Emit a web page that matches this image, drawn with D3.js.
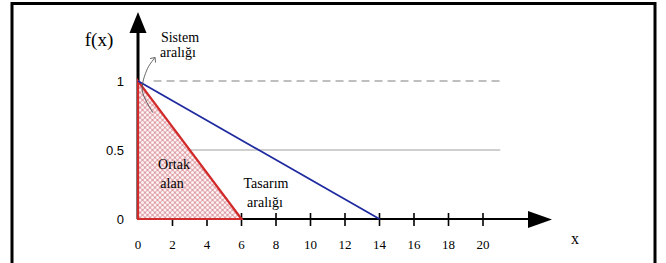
<!DOCTYPE html>
<html>
<head>
<meta charset="utf-8">
<script src="https://cdn.jsdelivr.net/npm/d3@7"></script>
<style>
  body { margin: 0; background: #fff; }
  svg { display: block; }
  .serif { font-family: 'Liberation Serif', 'Times New Roman', serif; }
  .sans { font-family: 'Liberation Sans', Arial, sans-serif; }
</style>
</head>
<body>
<svg id="chart" width="666" height="263"></svg>
<script>
// values
const xTicks = [0, 2, 4, 6, 8, 10, 12, 14, 16, 18, 20];
const yTicks = [0, 0.5, 1];
const yTickLabels = ['0', '0.5', '1'];
const systemRange = [[0, 1], [14, 0]];      // blue line
const designRange = [[0, 0], [0, 1], [6, 0]]; // red triangle
const halfLine = [[3, 0.5], [21, 0.5]];
const oneLine = [[0.9, 1], [21, 1]];
const arrowCurve = [[0.87, 0.77], [0.25, 0.93], [0.55, 1.09], [0.99, 1.17]];

const svg = d3.select('#chart');

const x = d3.scaleLinear().domain([0, 20]).range([138, 483]);
const y = d3.scaleLinear().domain([0, 1]).range([219, 81]);

const line = d3.line().x(d => x(d[0])).y(d => y(d[1]));

// frame
svg.append('rect')
  .attr('x', 12).attr('y', 3.5)
  .attr('width', 643).attr('height', 280)
  .attr('fill', 'none').attr('stroke', '#000').attr('stroke-width', 3);

// pattern for common area
const defs = svg.append('defs');
const pat = defs.append('pattern')
  .attr('id', 'dots').attr('patternUnits', 'userSpaceOnUse')
  .attr('width', 5).attr('height', 5);
pat.append('rect').attr('width', 5).attr('height', 5).attr('fill', '#dfa0a7');
[[2.5, 2.5], [0, 0], [5, 0], [0, 5], [5, 5]].forEach(p => {
  pat.append('circle').attr('cx', p[0]).attr('cy', p[1]).attr('r', 1.5).attr('fill', '#fdf3f4');
});

// reference lines
svg.append('path').attr('d', line(oneLine))
  .attr('stroke', '#aaa').attr('stroke-width', 1.3)
  .attr('stroke-dasharray', '8,5').attr('fill', 'none');
svg.append('path').attr('d', line(halfLine))
  .attr('stroke', '#888').attr('stroke-width', 0.8).attr('fill', 'none');

// x axis
svg.append('line')
  .attr('x1', x(0)).attr('x2', 530).attr('y1', y(0)).attr('y2', y(0))
  .attr('stroke', '#000').attr('stroke-width', 2);
svg.append('path')
  .attr('d', 'M528,211L552,219.5L528,228Z').attr('fill', '#000');

svg.selectAll('line.tick')
  .data(xTicks.filter(d => d > 0))
  .join('line')
  .attr('class', 'tick')
  .attr('x1', d => x(d)).attr('x2', d => x(d))
  .attr('y1', y(0) - 6).attr('y2', y(0) + 7)
  .attr('stroke', '#000').attr('stroke-width', 1.6);

svg.selectAll('text.xt')
  .data(xTicks)
  .join('text')
  .attr('class', 'xt serif')
  .attr('x', d => x(d)).attr('y', 249)
  .attr('text-anchor', 'middle')
  .attr('font-size', 13)
  .text(d => d);

// y axis
svg.append('line')
  .attr('x1', x(0)).attr('x2', x(0)).attr('y1', y(0)).attr('y2', 30)
  .attr('stroke', '#000').attr('stroke-width', 3);
svg.append('path')
  .attr('d', 'M129.5,33L138,12L146.5,33Z').attr('fill', '#000');

svg.selectAll('text.yt')
  .data(yTicks)
  .join('text')
  .attr('class', 'yt sans')
  .attr('x', 124).attr('y', d => y(d) + 5)
  .attr('text-anchor', 'end')
  .attr('font-size', 13)
  .text((d, i) => yTickLabels[i]);

// common area triangle
svg.append('path')
  .attr('d', line(designRange) + 'Z')
  .attr('fill', 'url(#dots)')
  .attr('stroke', '#d22a2a').attr('stroke-width', 2.2)
  .attr('stroke-linejoin', 'miter');

// blue line
svg.append('path').attr('d', line(systemRange))
  .attr('stroke', '#1f2aa0').attr('stroke-width', 1.8).attr('fill', 'none');

// curved pointer
const curve = d3.line().x(d => x(d[0])).y(d => y(d[1])).curve(d3.curveCatmullRom);
svg.append('path').attr('d', curve(arrowCurve))
  .attr('stroke', '#555').attr('stroke-width', 0.9).attr('fill', 'none');
const tip = arrowCurve[arrowCurve.length - 1];
svg.append('path')
  .attr('d', `M${x(tip[0]) - 5},${y(tip[1]) + 1}L${x(tip[0])},${y(tip[1])}L${x(tip[0]) + 0.5},${y(tip[1]) + 5}`)
  .attr('stroke', '#555').attr('stroke-width', 0.9).attr('fill', 'none');

// labels
const labels = [
  { t: 'f(x)', x: 99, y: 46, s: 19 },
  { t: 'x', x: 575, y: 244, s: 16 },
  { t: 'Sistem', x: 180, y: 42, s: 14 },
  { t: 'aralığı', x: 178, y: 57, s: 14 },
  { t: 'Ortak', x: 174, y: 169, s: 14 },
  { t: 'alan', x: 172, y: 188, s: 14 },
  { t: 'Tasarım', x: 266, y: 188, s: 14 },
  { t: 'aralığı', x: 265, y: 207, s: 14 }
];
svg.selectAll('text.lab')
  .data(labels)
  .join('text')
  .attr('class', 'lab serif')
  .attr('x', d => d.x).attr('y', d => d.y)
  .attr('text-anchor', 'middle')
  .attr('font-size', d => d.s)
  .text(d => d.t);
</script>
</body>
</html>
